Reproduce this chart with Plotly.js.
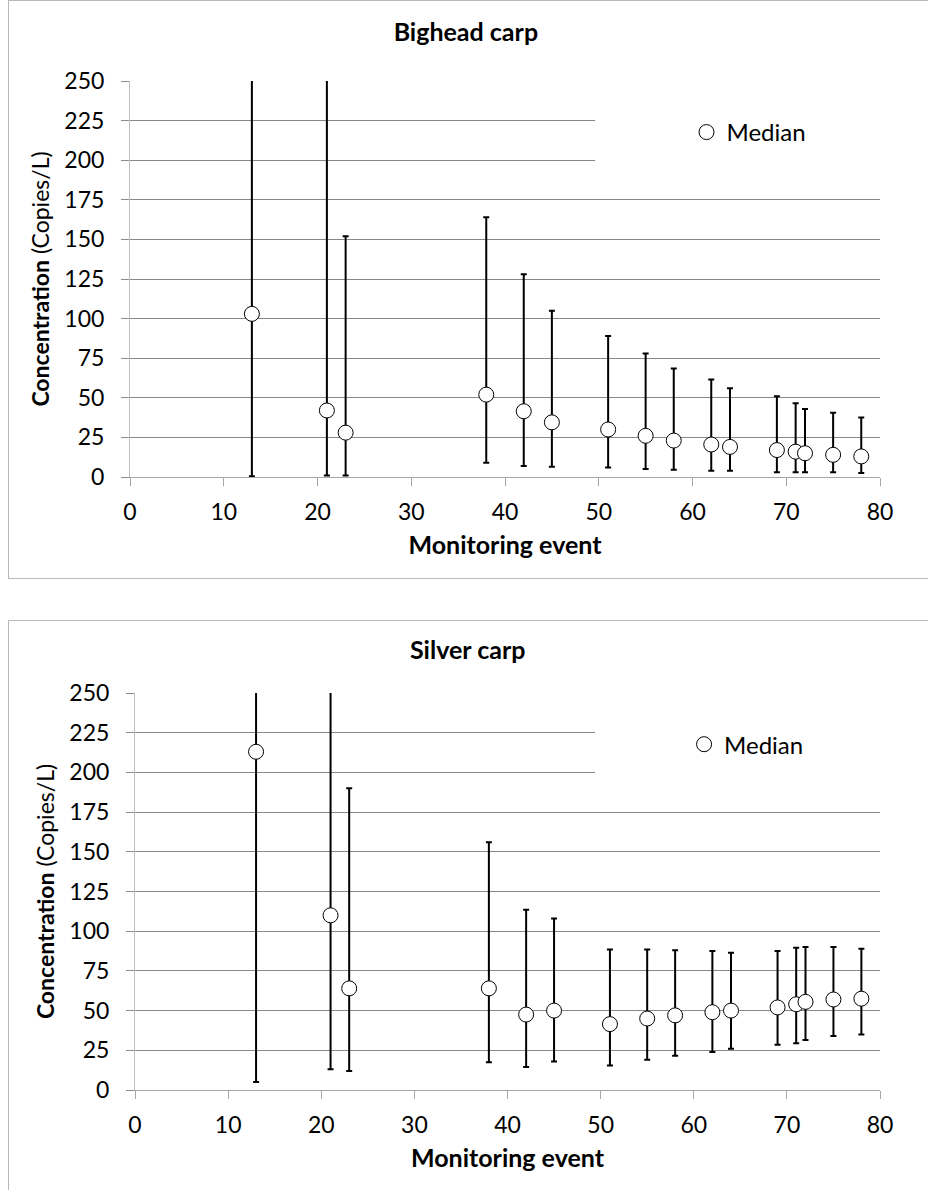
<!DOCTYPE html>
<html>
<head>
<meta charset="utf-8">
<script src="https://cdn.plot.ly/plotly-3.0.1.min.js"></script>
<style>
  html, body { margin: 0; padding: 0; background: #fff; }
  body { width: 928px; height: 1190px; position: relative; overflow: hidden; }
  .frame { position: absolute; border: 1px solid #b8b8b8; box-sizing: border-box; }
  .chart { position: absolute; left: 0; width: 928px; }
</style>
</head>
<body>
<div class="frame" style="left:8px; top:0px; width:930px; height:579px;"></div>
<div class="frame" style="left:8px; top:620px; width:930px; height:600px;"></div>
<div id="bighead" class="chart" style="top:0px; height:580px;"></div>
<div id="silver" class="chart" style="top:620px; height:570px;"></div>
<script>
// Monitoring events sampled
const events = [13, 21, 23, 38, 42, 45, 51, 55, 58, 62, 64, 69, 71, 72, 75, 78];

// Bighead carp: median concentration and interval bounds (copies/L)
const bigheadMedian = [103, 42, 28, 52, 41.5, 34.5, 30, 26, 23, 20.5, 19, 17, 16, 15, 14, 13];
const bigheadLow    = [0.5, 1, 1, 9, 7, 6.5, 6, 5, 4.5, 4, 4, 3, 3, 3, 3, 2.5];
const bigheadHigh   = [320, 300, 152, 164, 128, 105, 89, 78, 68.5, 61.5, 56, 51, 46.5, 43, 40.5, 37.5];

// Silver carp: median concentration and interval bounds (copies/L)
const silverMedian = [213, 110, 64, 64, 47.5, 50, 41.5, 45, 47, 49, 50, 52, 54, 55.5, 57, 57.5];
const silverLow    = [5, 13, 12, 17.5, 14.5, 18, 15.5, 19, 21.5, 24, 26, 28.5, 29.5, 31.5, 34, 35];
const silverHigh   = [330, 300, 190, 156, 113.5, 108, 88.5, 88.5, 88, 87.5, 86.5, 87.5, 89.5, 90, 90, 89];

const xTicks = [0, 10, 20, 30, 40, 50, 60, 70, 80];
const yTicks = [0, 25, 50, 75, 100, 125, 150, 175, 200, 225, 250];

const FONT = 'Lato, "Open Sans", sans-serif';

function drawPanel(id, titleText, median, low, high, geom) {
  const trace = {
    type: 'scatter',
    mode: 'markers',
    name: 'Median',
    x: events,
    y: median,
    cliponaxis: true,
    marker: { symbol: 'circle', size: 15, color: '#ffffff', line: { color: '#000000', width: 1 } },
    error_y: {
      type: 'data',
      symmetric: false,
      array: high.map((h, i) => h - median[i]),
      arrayminus: low.map((l, i) => median[i] - l),
      color: '#000000',
      thickness: 2,
      width: 3
    },
    hoverinfo: 'x+y'
  };

  const layout = {
    width: 928,
    height: geom.height,
    margin: { l: geom.l, r: 48, t: geom.t, b: geom.b, pad: 0 },
    paper_bgcolor: 'rgba(0,0,0,0)',
    plot_bgcolor: 'rgba(0,0,0,0)',
    font: { family: FONT, color: '#000000', size: 23 },
    title: {
      text: '<b>' + titleText + '</b>',
      font: { family: FONT, size: 25, color: '#000000' },
      xref: 'container', x: geom.titleX,
      yref: 'container', y: geom.titleY, yanchor: 'middle', xanchor: 'center'
    },
    showlegend: true,
    legend: {
      x: geom.legendX, xanchor: 'left',
      y: geom.legendY, yanchor: 'middle',
      bgcolor: 'rgba(0,0,0,0)',
      borderwidth: 0,
      font: { family: FONT, size: 24, color: '#000000' }
    },
    xaxis: {
      range: [0, 80],
      tickvals: xTicks,
      ticktext: xTicks.map(String),
      ticks: 'outside', ticklen: 8, tickwidth: 1, tickcolor: '#a6a6a6',
      showline: true, linecolor: '#a6a6a6', linewidth: 1,
      showgrid: false, zeroline: false,
      tickfont: { family: FONT, size: 23, color: '#000000' },
      ticklabelstandoff: 6,
      title: { text: '<b>Monitoring event</b>', font: { family: FONT, size: 25, color: '#000000' }, standoff: 12 },
      fixedrange: true
    },
    yaxis: {
      range: [0, 250],
      tickvals: yTicks,
      ticktext: yTicks.map(String),
      ticks: 'outside', ticklen: 8, tickwidth: 1, tickcolor: '#8c8c8c',
      showline: true, linecolor: '#bfbfbf', linewidth: 1,
      showgrid: true, gridcolor: '#888888', gridwidth: 1,
      zeroline: false,
      tickfont: { family: FONT, size: 23, color: '#000000' },
      ticklabelstandoff: 12,
      title: { text: '<b>Concentration</b> (Copies/L)', font: { family: FONT, size: 23, color: '#000000' }, standoff: 8 },
      fixedrange: true
    },
    shapes: [{
      // clear panel behind the legend entry
      type: 'rect', layer: 'above',
      xref: 'paper', yref: 'y',
      x0: geom.clearX0, x1: 1.01, y0: 185, y1: 248,
      fillcolor: '#ffffff', line: { width: 0 }
    }]
  };

  return Plotly.newPlot(id, [trace], layout, { displayModeBar: false, staticPlot: true });
}

drawPanel('bighead', 'Bighead carp', bigheadMedian, bigheadLow, bigheadHigh, {
  height: 580, l: 130, t: 81, b: 103,
  titleX: 0.502, titleY: 1 - 32 / 580,
  legendX: 0.742, legendY: 0.87,
  clearX0: (595 - 130) / 750
});

drawPanel('silver', 'Silver carp', silverMedian, silverLow, silverHigh, {
  height: 570, l: 135, t: 73, b: 100,
  titleX: 0.504, titleY: 1 - 30 / 570,
  legendX: 0.737, legendY: 0.87,
  clearX0: (595 - 135) / 745
});
</script>
</body>
</html>
